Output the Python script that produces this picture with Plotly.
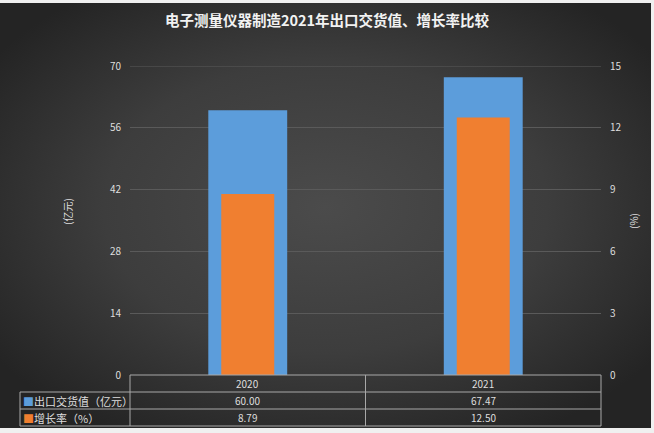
import base64
import plotly.graph_objects as go

# chart data
years = ["2020", "2021"]
export_value = [60.00, 67.47]   # 出口交货值（亿元）
growth_rate = [8.79, 12.50]     # 增长率（%）

series_names = ["出口交货值（亿元）", "增长率（%）"]
left_ticks = [0, 14, 28, 42, 56, 70]
right_ticks = [0, 3, 6, 9, 12, 15]

W, H = 654, 433
L, R, T, B = 130, 601, 66, 375   # plot area in pixels

BLUE = "#5c9ddb"
ORANGE = "#f07f30"
GRID = "#5a5a5a"
TABLE_LINE = "#a8a8a8"
TXT = "#dedede"
FONT = "Noto Sans CJK SC"


def px_x(px):
    return (px - L) / (R - L)


def px_y(py):
    return (B - py) / (B - T)


# dark radial background as an svg data uri
svg = f"""<svg xmlns="http://www.w3.org/2000/svg" width="{W}" height="{H}">
<defs><radialGradient id="g" cx="50%" cy="48%" r="62%">
<stop offset="0%" stop-color="#4b4b4b"/>
<stop offset="55%" stop-color="#3d3d3d"/>
<stop offset="100%" stop-color="#242424"/>
</radialGradient></defs>
<rect width="{W}" height="{H}" fill="url(#g)"/></svg>"""
bg_uri = "data:image/svg+xml;base64," + base64.b64encode(svg.encode()).decode()

fig = go.Figure()

fig.add_trace(go.Bar(
    x=years, y=export_value, name=series_names[0],
    marker=dict(color=BLUE, line=dict(width=0)),
    width=0.335, yaxis="y", hoverinfo="x+y",
))
fig.add_trace(go.Bar(
    x=years, y=growth_rate, name=series_names[1],
    marker=dict(color=ORANGE, line=dict(width=0)),
    width=0.225, yaxis="y2", hoverinfo="x+y",
))

shapes = []
# plotly skips the gridline on the top edge, so draw that one by hand
shapes.append(dict(type="line", xref="paper", yref="y", x0=0, x1=1,
                   y0=left_ticks[-1], y1=left_ticks[-1], layer="below",
                   line=dict(color=GRID, width=1)))
line = dict(color=TABLE_LINE, width=1)
# data table grid
for py in (B, 392, 409, 426):
    x0 = px_x(20) if py != B else 0
    shapes.append(dict(type="line", xref="paper", yref="paper",
                       x0=x0, x1=1, y0=px_y(py), y1=px_y(py), line=line))
for px in (L, (L + R) / 2, R):
    shapes.append(dict(type="line", xref="paper", yref="paper",
                       x0=px_x(px), x1=px_x(px), y0=px_y(B), y1=px_y(426), line=line))
shapes.append(dict(type="line", xref="paper", yref="paper",
                   x0=px_x(20), x1=px_x(20), y0=px_y(392), y1=px_y(426), line=line))

annotations = []
tfont = dict(family=FONT, size=10, color=TXT)
rows_y = [px_y(383.5), px_y(400.5), px_y(417.5)]
cell = dict(xref="paper", yref="paper", xanchor="center", yanchor="middle",
            showarrow=False, font=tfont)
for i, yr in enumerate(years):
    xc = (i + 0.5) / len(years)
    annotations.append(dict(cell, x=xc, y=rows_y[0], text=yr))
    annotations.append(dict(cell, x=xc, y=rows_y[1], text=f"{export_value[i]:.2f}"))
    annotations.append(dict(cell, x=xc, y=rows_y[2], text=f"{growth_rate[i]:.2f}"))

for name, color, ry in zip(series_names, [BLUE, ORANGE], rows_y[1:]):
    annotations.append(dict(
        x=px_x(21), xref="paper", y=ry, yref="paper",
        xanchor="left", yanchor="middle",
        text=f'<span style="color:{color}">■</span>{name}',
        showarrow=False, font=dict(family=FONT, size=11, color=TXT)))

# axis titles
for label, px, py in (("(亿元)", 67, 212), ("(%)", 634, 221)):
    annotations.append(dict(x=px_x(px), xref="paper", y=px_y(py), yref="paper",
                            xanchor="center", yanchor="middle",
                            text=label, textangle=-90, showarrow=False,
                            font=dict(family=FONT, size=10, color=TXT)))

fig.update_layout(
    width=W, height=H,
    margin=dict(l=L, r=W - R, t=T, b=H - B),
    paper_bgcolor="#f0f0f0",
    plot_bgcolor="rgba(0,0,0,0)",
    barmode="overlay",
    showlegend=False,
    title=dict(text="<b>电子测量仪器制造2021年出口交货值、增长率比较</b>",
               x=0.5, xanchor="center", y=1 - 21 / H, yanchor="middle",
               font=dict(family=FONT, size=14.5, color="#f2f2f2")),
    font=dict(family=FONT, color=TXT),
    xaxis=dict(type="category", range=[-0.5, len(years) - 0.5],
               showticklabels=False, showgrid=False,
               zeroline=False, showline=False, fixedrange=True),
    yaxis=dict(range=[0, 70], tickvals=left_ticks, showgrid=True,
               gridcolor=GRID, gridwidth=1, zeroline=False, showline=False,
               ticklabelstandoff=8,
               tickfont=dict(family=FONT, size=10, color=TXT)),
    yaxis2=dict(range=[0, 15], tickvals=right_ticks, overlaying="y",
                side="right", showgrid=False, zeroline=False, showline=False,
                ticklabelstandoff=8,
                tickfont=dict(family=FONT, size=10, color=TXT)),
    images=[dict(source=bg_uri, xref="paper", yref="paper",
                 x=px_x(0), y=px_y(3), sizex=px_x(651) - px_x(0),
                 sizey=px_y(3) - px_y(428), xanchor="left", yanchor="top",
                 sizing="stretch", layer="below")],
    shapes=shapes,
    annotations=annotations,
)

# drop the default page margin so the figure sits at the window's corner
fig.write_html("out.html", config={"displayModeBar": False},
               post_script="document.body.style.margin='0';")
